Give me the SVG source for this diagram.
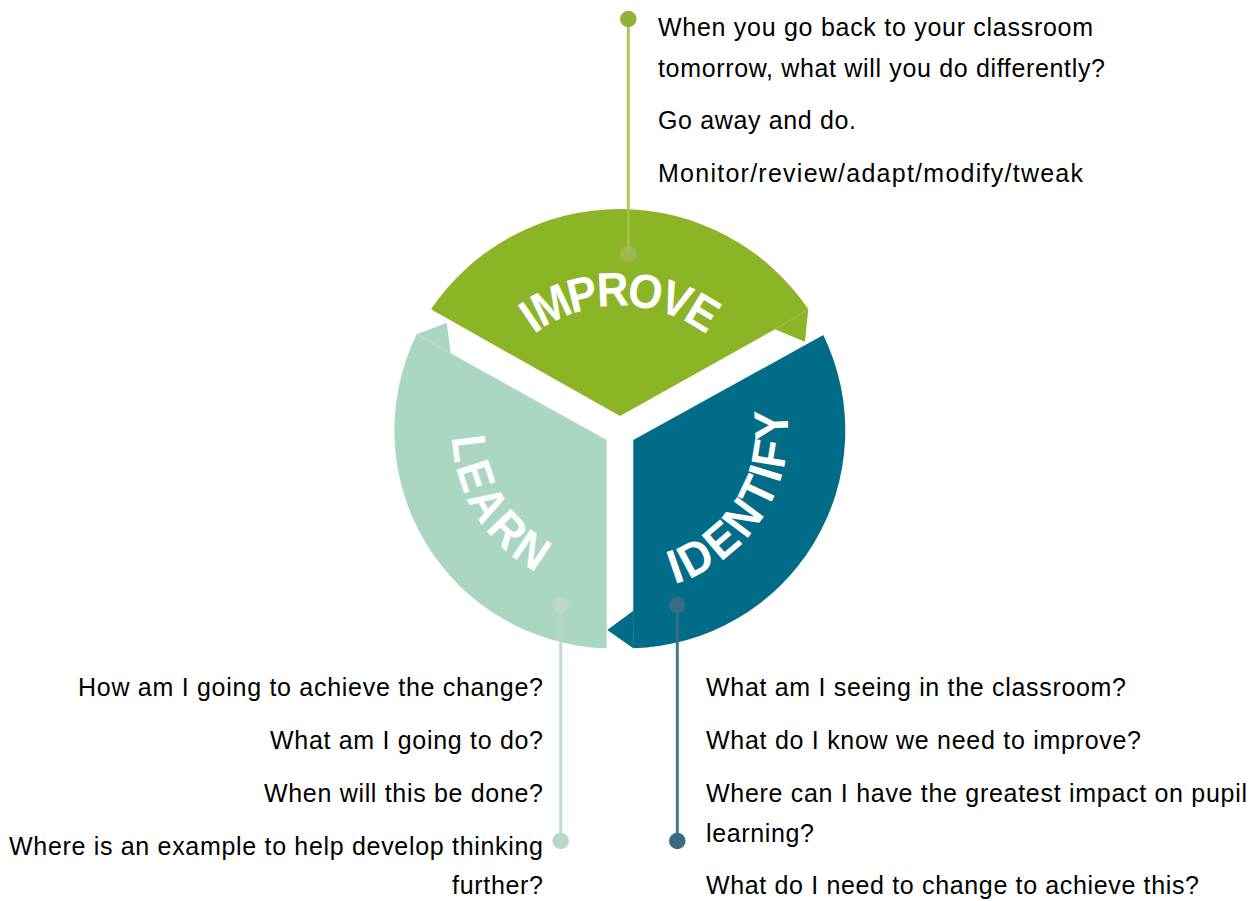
<svg xmlns="http://www.w3.org/2000/svg" xmlns:xlink="http://www.w3.org/1999/xlink" width="1257" height="901" viewBox="0 0 1257 901">
  <style>
    .body { font-family: "Liberation Sans", Arial, sans-serif; font-size: 25px; fill: #000; }
    .end { text-anchor: end; }
    .label { font-family: "Liberation Sans", Arial, sans-serif; font-size: 48px; font-weight: bold; fill: #ffffff; dominant-baseline: central; }
    .fold { fill: none; stroke-width: 1; stroke-dasharray: 2 1.5; }
    .conn { fill: none; stroke-width: 3; }
  </style>
  <defs>
    <path id="arc-improve" d="M 480.57 369.5 A 161 161 0 0 1 759.43 369.5"/>
    <path id="arc-learn" d="M 477.62 382.1 A 143 143 0 0 0 597.05 573.22"/>
    <path id="arc-identify" d="M 641.71 573.34 A 143 143 0 0 0 762.8 383.26"/>
  </defs>
  <rect width="1257" height="901" fill="#ffffff"/>

  <g id="node-improve">
    <path d="M 431 309.3 A 227.6 227.6 0 0 1 808.3 309.3 L 805 341.7 L 775 329.3 L 620 416 Z" fill="#8bb427"/>
    <line class="fold" x1="808.3" y1="309.3" x2="775" y2="329.3" stroke="#b3cf6e"/>
    <text class="label"><textPath xlink:href="#arc-improve" href="#arc-improve" startOffset="50%" text-anchor="middle" textLength="204" lengthAdjust="spacingAndGlyphs">IMPROVE</textPath></text>
  </g>

  <g id="node-learn">
    <path d="M 606.7 440 L 606.7 648.3 A 218 218 0 0 1 416.7 334.3 L 446.7 322.7 L 450.7 353.3 Z" fill="#abd7c2"/>
    <line class="fold" x1="416.7" y1="334.3" x2="450.7" y2="353.3" stroke="#c9e6d7"/>
    <text class="label"><textPath xlink:href="#arc-learn" href="#arc-learn" startOffset="50%" text-anchor="middle" textLength="152" lengthAdjust="spacingAndGlyphs">LEARN</textPath></text>
  </g>

  <g id="node-identify">
    <path d="M 633.3 440 L 823.3 335 A 218 218 0 0 1 633.3 648.3 L 607.3 630 L 633.3 610.7 Z" fill="#006c87"/>
    <line class="fold" x1="633.3" y1="610.7" x2="633.3" y2="648.3" stroke="#2a8aa2"/>
    <text class="label"><textPath xlink:href="#arc-identify" href="#arc-identify" startOffset="50%" text-anchor="middle" textLength="204" lengthAdjust="spacingAndGlyphs">IDENTIFY</textPath></text>
  </g>

  <g id="connectors">
    <line class="conn" x1="628.3" y1="19" x2="628.3" y2="254" stroke="#a2c24a" stroke-opacity="0.9"/>
    <circle cx="628.3" cy="19" r="8.3" fill="#8fb23a"/>
    <circle cx="628.3" cy="254" r="8.3" fill="#a5b85c" fill-opacity="0.75"/>

    <line class="conn" x1="560.7" y1="605" x2="560.7" y2="841" stroke="#b6d9c6" stroke-opacity="0.9"/>
    <circle cx="560.7" cy="605" r="8.3" fill="#bcd8ca" fill-opacity="0.8"/>
    <circle cx="560.7" cy="841" r="8.3" fill="#b5d9c5"/>

    <line class="conn" x1="677.3" y1="605" x2="677.3" y2="841" stroke="#3d6f88" stroke-opacity="0.95"/>
    <circle cx="677.3" cy="605" r="8.3" fill="#3f6d84" fill-opacity="0.85"/>
    <circle cx="677.3" cy="841" r="8.3" fill="#3b6b82"/>
  </g>

  <g id="notes-improve">
    <text class="body" x="658" y="36" textLength="435">When you go back to your classroom</text>
    <text class="body" x="658" y="77" textLength="447">tomorrow, what will you do differently?</text>
    <text class="body" x="658" y="129" textLength="198">Go away and do.</text>
    <text class="body" x="658" y="182" textLength="425">Monitor/review/adapt/modify/tweak</text>
  </g>

  <g id="notes-learn">
    <text class="body end" x="543" y="696" textLength="465">How am I going to achieve the change?</text>
    <text class="body end" x="543" y="749" textLength="273">What am I going to do?</text>
    <text class="body end" x="543" y="802" textLength="279">When will this be done?</text>
    <text class="body end" x="543" y="855" textLength="534">Where is an example to help develop thinking</text>
    <text class="body end" x="543" y="894" textLength="91">further?</text>
  </g>

  <g id="notes-identify">
    <text class="body" x="706" y="696" textLength="420">What am I seeing in the classroom?</text>
    <text class="body" x="706" y="749" textLength="435">What do I know we need to improve?</text>
    <text class="body" x="706" y="802" textLength="541">Where can I have the greatest impact on pupil</text>
    <text class="body" x="706" y="842" textLength="108">learning?</text>
    <text class="body" x="706" y="894" textLength="493">What do I need to change to achieve this?</text>
  </g>
</svg>
